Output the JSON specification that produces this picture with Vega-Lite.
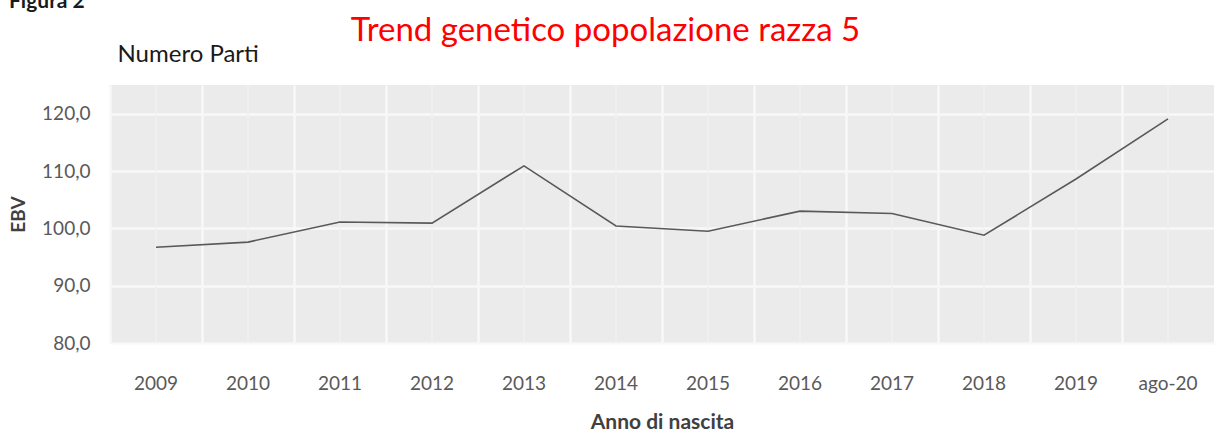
{
  "$schema": "https://vega.github.io/schema/vega-lite/v6.json",
  "width": 1104,
  "height": 258,
  "autosize": {"type": "none"},
  "padding": {"left": 110, "top": 85, "right": 1, "bottom": 95},
  "background": "#ffffff",
  "title": {
    "text": "Figura 2",
    "anchor": "start",
    "frame": "bounds",
    "font": "Lato",
    "fontSize": 21,
    "fontWeight": "bold",
    "color": "#1a1a1a",
    "offset": 2
  },
  "config": {
    "view": {"fill": "#ebebeb", "stroke": null},
    "font": "Lato"
  },
  "data": {
    "values": [
      {"anno": "2009", "ebv": 96.7},
      {"anno": "2010", "ebv": 97.6},
      {"anno": "2011", "ebv": 101.1},
      {"anno": "2012", "ebv": 100.9},
      {"anno": "2013", "ebv": 110.9},
      {"anno": "2014", "ebv": 100.4},
      {"anno": "2015", "ebv": 99.5},
      {"anno": "2016", "ebv": 103.0},
      {"anno": "2017", "ebv": 102.6},
      {"anno": "2018", "ebv": 98.8},
      {"anno": "2019", "ebv": 108.6},
      {"anno": "ago-20", "ebv": 119.1}
    ]
  },
  "layer": [
    {
      "mark": {"type": "rule", "color": "#f0f0f0", "strokeWidth": 1.5},
      "encoding": {
        "x": {
          "field": "anno",
          "type": "ordinal",
          "sort": null,
          "scale": {"type": "band", "paddingInner": 0, "paddingOuter": 0},
          "axis": {
            "orient": "top",
            "bandPosition": 0,
            "grid": true,
            "gridColor": "#f8f8f8",
            "gridWidth": 2.5,
            "labels": false,
            "ticks": false,
            "domain": false,
            "title": "Trend genetico popolazione razza 5",
            "titleColor": "#ff0000",
            "titleFont": "Lato",
            "titleFontSize": 33,
            "titleFontWeight": "normal",
            "titleAnchor": "start",
            "titleAlign": "center",
            "titleBaseline": "alphabetic",
            "titleX": 495,
            "titleY": -45
          }
        },
        "y": {"datum": 80, "type": "quantitative",
          "axis": {
            "orient": "left",
            "grid": false,
            "labels": false,
            "ticks": false,
            "domain": false,
            "title": "Numero Parti",
            "titleColor": "#1a1a1a",
            "titleFont": "Lato",
            "titleFontSize": 24,
            "titleFontWeight": "normal",
            "titleAngle": 0,
            "titleAlign": "left",
            "titleBaseline": "alphabetic",
            "titleX": 7,
            "titleY": -24
          }
        },
        "y2": {"datum": 125}
      }
    },
    {
      "mark": {"type": "line", "color": "#595959", "strokeWidth": 1.6},
      "encoding": {
        "x": {
          "field": "anno",
          "type": "ordinal",
          "sort": null,
          "axis": {
            "orient": "bottom",
            "grid": false,
            "ticks": false,
            "tickSize": 0,
            "domain": false,
            "labelAngle": 0,
            "labelFont": "Lato",
            "labelFontSize": 19,
            "labelColor": "#595959",
            "labelBaseline": "alphabetic",
            "labelPadding": 46,
            "title": "Anno di nascita",
            "titleFont": "Lato",
            "titleFontSize": 21,
            "titleFontWeight": "bold",
            "titleColor": "#404040",
            "titleBaseline": "alphabetic",
            "titleY": 85
          }
        },
        "y": {
          "field": "ebv",
          "type": "quantitative",
          "scale": {"domain": [80, 125], "nice": false, "zero": false},
          "axis": {
            "orient": "left",
            "values": [80, 90, 100, 110, 120],
            "labelExpr": "replace(format(datum.value, '.1f'), '.', ',')",
            "grid": true,
            "gridColor": "#f8f8f8",
            "gridWidth": 2.5,
            "ticks": false,
            "tickSize": 0,
            "domain": false,
            "labelFont": "Lato",
            "labelFontSize": 19,
            "labelColor": "#595959",
            "labelPadding": 20,
            "title": "EBV",
            "titleFont": "Lato",
            "titleFontSize": 19,
            "titleFontWeight": "bold",
            "titleColor": "#404040",
            "titleAngle": 270,
            "titleAlign": "center",
            "titleBaseline": "middle",
            "titleX": -92,
            "titleY": 129
          }
        }
      }
    }
  ],
  "resolve": {"axis": {"x": "independent", "y": "independent"}}
}
